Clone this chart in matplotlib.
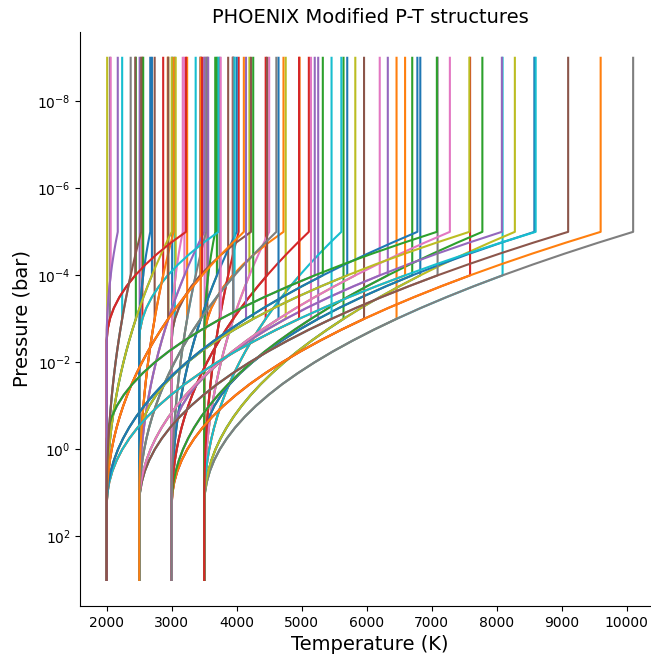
import numpy as np
import matplotlib
matplotlib.use("Agg")
import matplotlib.pyplot as plt

# deep isothermal temperatures and the three top pressures (log10 bar)
bases = [3500, 3000, 2500, 2000]
top_logp = [-3, -4, -5]

# inversion strength: temperature rise at 1e-5 bar, and which profile shape it follows
amp = [1000, 6600, 4780, 2110, 5080, 1220, 170, 530]
shape_of = ['deep', 'deep', 'deep', 'deep', 'mid', 'shallow', 'shallow', 'deep']

# log10 P grid and the normalised rise (0 at depth, 1 at 1e-5 bar)
logp_grid = [3, 1.25, 1, 0.75, 0.5, 0.25, 0, -0.25, -0.5, -0.75, -1, -1.25, -1.5,
             -1.75, -2, -2.25, -2.5, -2.75, -3, -3.25, -3.5, -3.75, -4, -4.25,
             -4.5, -4.75, -5]
shape_deep = [0, 0, 0.0017, 0.006, 0.0131, 0.0232, 0.0363, 0.0526, 0.072, 0.0946,
              0.1205, 0.1497, 0.182, 0.218, 0.2572, 0.2998, 0.346, 0.3954, 0.4484,
              0.5049, 0.565, 0.6285, 0.6956, 0.7664, 0.8406, 0.9184, 1.0]
shape_mid = [0, 0, 0, 0, 0, 0, 0, 0.0004, 0.0052, 0.0153, 0.0307, 0.0514, 0.0775,
             0.1088, 0.1455, 0.1875, 0.2348, 0.2874, 0.3453, 0.4085, 0.4771, 0.551,
             0.6301, 0.7146, 0.8044, 0.8996, 1.0]
shape_shallow = [0, 0, 0, 0, 0, 0, 0, 0, 0, 0, 0, 0, 0, 0, 0, 0, 0, 0.01, 0.04,
                 0.09, 0.16, 0.25, 0.36, 0.49, 0.64, 0.81, 1.0]
shapes = {'deep': shape_deep, 'mid': shape_mid, 'shallow': shape_shallow}

p_min_log = -9

fig = plt.figure(figsize=(6.51, 6.59), dpi=100)
ax = fig.add_axes([0.1235, 0.0804, 0.8895, 0.8715])

grid = np.array(logp_grid)
for T0 in bases:
    for ptop in top_logp:
        for j in range(len(amp)):
            g = np.array(shapes[shape_of[j]])
            keep = grid >= ptop
            lp = np.append(grid[keep], p_min_log)
            gg = np.append(g[keep], g[keep][-1])
            T = T0 + amp[j] * gg
            ax.plot(T, 10.0 ** lp, lw=1.5)

ax.set_yscale('log')
ax.set_ylim(10 ** 3.6, 10 ** -9.6)
ax.set_xlim(1595, 10505)
ax.set_yticks([1e-8, 1e-6, 1e-4, 1e-2, 1e0, 1e2])
ax.yaxis.set_minor_locator(matplotlib.ticker.NullLocator())
ax.set_xticks([2000, 3000, 4000, 5000, 6000, 7000, 8000, 9000, 10000])
ax.tick_params(labelsize=10)

ax.spines['top'].set_visible(False)
ax.spines['right'].set_visible(False)

ax.set_xlabel('Temperature (K)', fontsize=14)
ax.set_ylabel('Pressure (bar)', fontsize=14)
ax.set_title('PHOENIX Modified P-T structures', fontsize=14)

fig.savefig('out.png', dpi=100)
